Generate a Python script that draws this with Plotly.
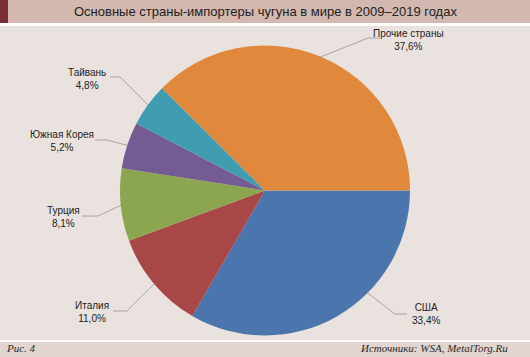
import math
import plotly.graph_objects as go

# ---- data ----
countries = ["США", "Италия", "Турция", "Южная Корея", "Тайвань", "Прочие страны"]
shares = [33.4, 11.0, 8.1, 5.2, 4.8, 37.6]
colors = ["#4A76AD", "#A84747", "#8CA64F", "#745B92", "#409CB1", "#E0883B"]

title_text = "Основные страны-импортеры чугуна в мире в 2009–2019 годах"
fig_label = "Рис. 4"
source_text = "Источники: WSA, MetalTorg.Ru"

W, H = 530, 357
CX, CY, R = 265, 190.5, 145

fig = go.Figure(go.Pie(
    labels=countries, values=shares, sort=False, direction="clockwise",
    rotation=90, marker=dict(colors=colors, line=dict(width=0)),
    textinfo="none", hoverinfo="skip", showlegend=False,
    domain=dict(x=[(CX - R) / W, (CX + R) / W], y=[1 - (CY + R) / H, 1 - (CY - R) / H]),
))

def px(x):
    return x / W

def py(y):
    return 1 - y / H

shapes = [
    dict(type="rect", xref="paper", yref="paper", x0=0, x1=1, y0=py(23), y1=1,
         fillcolor="#D3B8AF", line=dict(width=0), layer="below"),
    dict(type="rect", xref="paper", yref="paper", x0=0, x1=px(8), y0=py(23), y1=1,
         fillcolor="#7A2E36", line=dict(width=0), layer="below"),
    dict(type="rect", xref="paper", yref="paper", x0=0, x1=1, y0=py(26), y1=py(23),
         fillcolor="#FFFFFF", line=dict(width=0), layer="below"),
    dict(type="rect", xref="paper", yref="paper", x0=0, x1=1, y0=0, y1=py(340),
         fillcolor="#FFFFFF", line=dict(width=0), layer="below"),
    dict(type="rect", xref="paper", yref="paper", x0=0, x1=1, y0=0, y1=py(342),
         fillcolor="#E2D5D0", line=dict(width=0), layer="below"),
]

# label layout: (angle override or None, elbow x, elbow y, line end x, text x, text y)
label_layout = [
    (45, 395, 314, 407, 426, 314),
    (None, 127, 311, 113, 92, 312),
    (None, 98, 216, 82, 63, 217),
    (None, 107, 140, 95, 62, 141),
    (None, 120, 77, 110, 87, 79),
    (None, 368, 38, 380, 408, 40),
]

annotations = []
total = sum(shares)
cum = 0.0
for name, v, lay in zip(countries, shares, label_layout):
    mid = (cum + v / 2) / total * 360
    cum += v
    ang, ex, ey, lx, tx, ty = lay
    a = math.radians(ang if ang is not None else mid)
    sx = CX + (R - 1) * math.cos(a)
    sy = CY + (R - 1) * math.sin(a)
    for (x0, y0, x1, y1) in [(sx, sy, ex, ey), (ex, ey, lx, ey)]:
        shapes.append(dict(type="line", xref="paper", yref="paper",
                           x0=px(x0), y0=py(y0), x1=px(x1), y1=py(y1),
                           line=dict(color="#9A9592", width=0.8)))
    pct = f"{v:.1f}".replace(".", ",") + "%"
    annotations.append(dict(x=px(tx), y=py(ty), xref="paper", yref="paper",
                            text=f"{name}<br>{pct}", showarrow=False,
                            xanchor="center", yanchor="middle",
                            font=dict(family="Liberation Sans, Arial", size=10, color="#222222")))

annotations += [
    dict(x=0.5, y=py(11.5), xref="paper", yref="paper", text=title_text, showarrow=False,
         xanchor="center", yanchor="middle",
         font=dict(family="Liberation Sans, Arial", size=13, color="#222222")),
    dict(x=px(4), y=py(348), xref="paper", yref="paper", text=f"<i>{fig_label}</i>", showarrow=False,
         xanchor="left", yanchor="middle",
         font=dict(family="Liberation Serif, Times New Roman", size=11, color="#2A2A2A")),
    dict(x=px(510), y=py(348), xref="paper", yref="paper", text=f"<i>{source_text}</i>", showarrow=False,
         xanchor="right", yanchor="middle",
         font=dict(family="Liberation Serif, Times New Roman", size=11, color="#2A2A2A")),
]

fig.update_layout(
    width=W, height=H, margin=dict(l=0, r=0, t=0, b=0),
    paper_bgcolor="#EAE2DE", plot_bgcolor="#EAE2DE",
    shapes=shapes, annotations=annotations,
)

fig.write_html("out.html", config=dict(displayModeBar=False),
               post_script="document.body.style.margin='0';document.body.style.overflow='hidden';")
